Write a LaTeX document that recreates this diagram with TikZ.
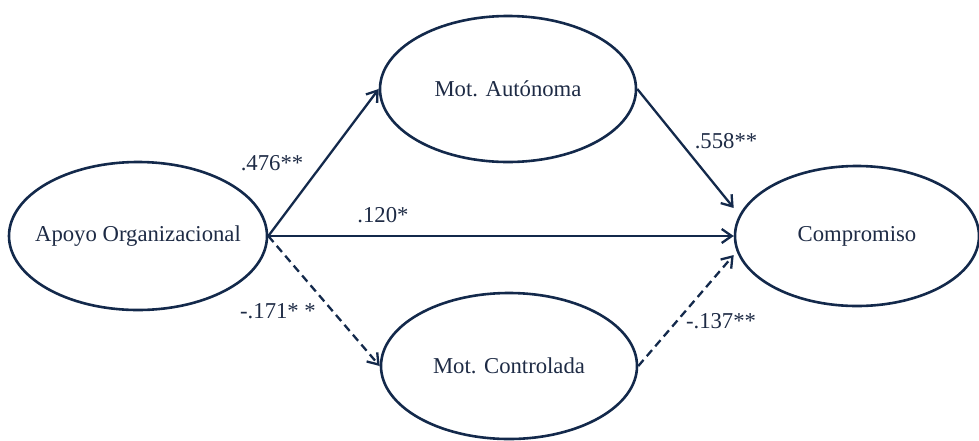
\documentclass[tikz,border=0pt]{standalone}
\usepackage{fontspec}
\setmainfont{Liberation Serif}
\usetikzlibrary{shapes.geometric,arrows.meta,calc}
\definecolor{navy}{HTML}{13294B}
\definecolor{inktext}{HTML}{1E2B45}
\tikzset{
  construct/.style={ellipse, draw=navy, line width=2.6pt, inner sep=0pt,
    minimum width=256pt, minimum height=146pt, text=inktext,
    font=\fontsize{22.7}{26}\selectfont},
  path/.style={draw=navy, line width=2.3pt,
    -{Straight Barb[length=10pt,width=14pt,line width=2.3pt]}},
  negpath/.style={path, dash pattern=on 8pt off 5pt},
  coef/.style={text=inktext, inner sep=0pt, font=\fontsize{22.7}{26}\selectfont}
}
% centred label of zero width, so the ellipse keeps its set size
\newcommand{\ctext}[1]{\makebox[0pt]{#1}}
\begin{document}
\begin{tikzpicture}[x=1pt,y=-1pt]
  \useasboundingbox (0,0) rectangle (979,440);
  % latent constructs
  \node[construct, minimum width=258pt, minimum height=148pt] (apoyo) at (138,236) {\ctext{Apoyo Organizacional}};
  \node[construct] (auto)  at (508,89)  {\ctext{Mot. Autónoma}};
  \node[construct] (ctrl)  at (509,366) {\ctext{Mot. Controlada}};
  \node[construct, minimum width=244pt, minimum height=140pt] (comp) at (857,236) {\ctext{Compromiso}};
  % entry points on the outcome
  \coordinate (compA) at ($(comp.west)+(0,-28)$);
  \coordinate (compC) at ($(comp.west)+(0,19)$);
  % structural paths
  \draw[path] (apoyo.east) -- (auto.west);
  \draw[path] (apoyo.east) -- (comp.west);
  \draw[negpath] (apoyo.east) -- (ctrl.west);
  \draw[path] (auto.east) -- (compA);
  \draw[negpath] (ctrl.east) -- (compC);
  % coefficients
  \node[coef] (c1) at (272,163) {.476**};
  \node[coef] (c2) at (383,215) {.120*};
  \node[coef] (c3) at (278,311) {-.171* *};
  \node[coef] (c4) at (726,141) {.558**};
  \node[coef] (c5) at (721,321) {-.137**};
\end{tikzpicture}
\end{document}
